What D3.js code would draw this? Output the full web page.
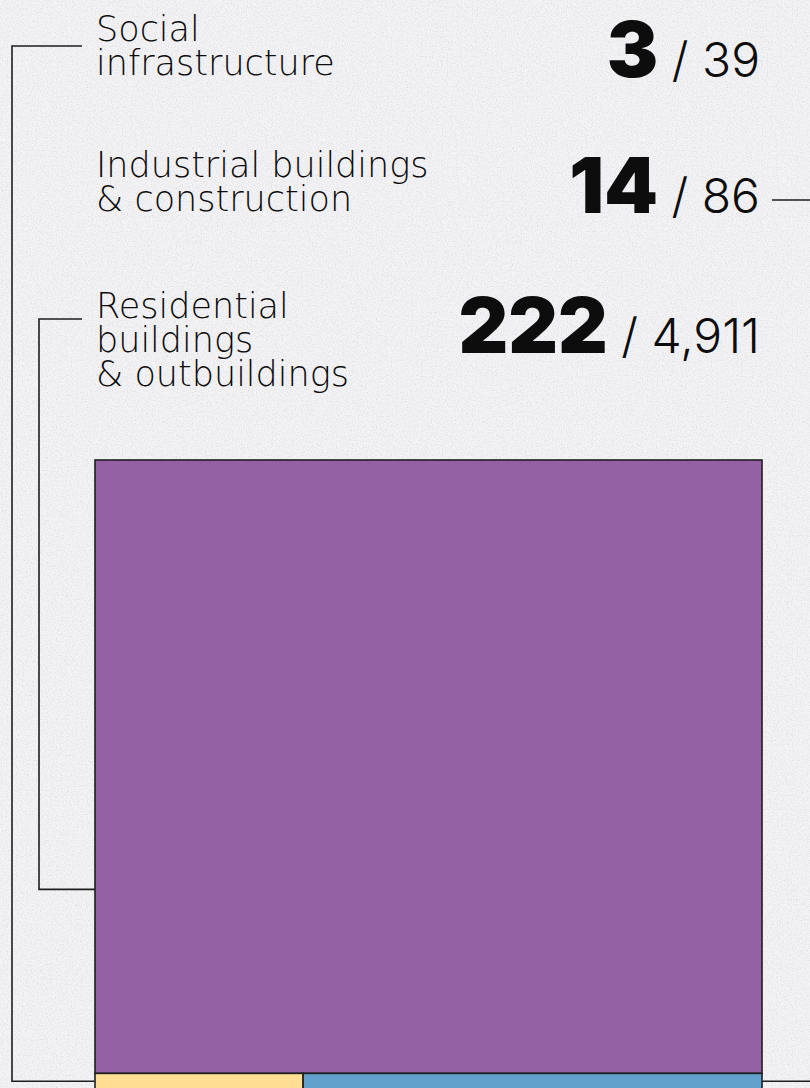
<!DOCTYPE html>
<html>
<head>
<meta charset="utf-8">
<script src="https://cdn.jsdelivr.net/npm/d3@7"></script>
<style>
  html, body { margin: 0; padding: 0; background: #f2f2f4; }
  svg { display: block; }
  .label { font-family: "DejaVu Sans", Inter, sans-serif; font-weight: 200; fill: #0c0c0c; }
  .count { font-family: Inter, "Noto Sans", sans-serif; fill: #0d0d0d; white-space: pre; }
  .leader { fill: none; stroke: #1e1e1e; stroke-width: 1.6; }
</style>
</head>
<body>
<div id="chart"></div>
<script>
// data
const categories = ["Social infrastructure", "Industrial buildings & construction", "Residential buildings & outbuildings"];
const labelLines = [["Social", "infrastructure"], ["Industrial buildings", "& construction"], ["Residential", "buildings", "& outbuildings"]];
const damaged = [3, 14, 222];
const totals = [39, 86, 4911];
const colors = ["#fede92", "#62a1cc", "#9461a4"];

const width = 810, height = 1088;
const box = { x: 95, y: 460, w: 667, h: 629 };

const svg = d3.select("#chart").append("svg")
    .attr("width", width).attr("height", height);

// paper grain
const defs = svg.append("defs");
const grain = defs.append("filter").attr("id", "grain")
    .attr("x", 0).attr("y", 0).attr("width", "100%").attr("height", "100%");
grain.append("feTurbulence").attr("type", "fractalNoise")
    .attr("baseFrequency", 0.8).attr("numOctaves", 2).attr("seed", 4).attr("stitchTiles", "stitch");
grain.append("feColorMatrix").attr("type", "matrix")
    .attr("values", "0 0 0 0 0.6  0 0 0 0 0.6  0 0 0 0 0.64  2.6 0 0 0 -1.2");

svg.append("rect").attr("width", width).attr("height", height).attr("fill", "#f3f3f5");
svg.append("rect").attr("width", width).attr("height", height)
    .attr("filter", "url(#grain)").attr("opacity", 0.5);

// treemap: residential on top, the two small groups share the strip below
const root = d3.hierarchy({ children: [{ i: 2 }, { children: [{ i: 0 }, { i: 1 }] }] })
    .sum(d => d.i != null ? totals[d.i] : 0);

d3.treemap()
    .size([box.w, box.h])
    .tile((node, x0, y0, x1, y1) => {
      if (node.depth === 0) d3.treemapSlice(node, x0, y0, x1, y1);
      else d3.treemapDice(node, x0, y0, x1, y1);
    })(root);

const leaves = root.leaves();
const cell = {};
leaves.forEach(l => cell[l.data.i] = l);

const g = svg.append("g").attr("transform", `translate(${box.x},${box.y})`);
g.selectAll("rect").data(leaves).join("rect")
    .attr("x", d => d.x0).attr("y", d => d.y0)
    .attr("width", d => d.x1 - d.x0).attr("height", d => d.y1 - d.y0)
    .attr("fill", d => colors[d.data.i])
    .attr("stroke", "#1e1e1e").attr("stroke-width", 1.6);

// labels
const labelX = 96;
const firstBaseline = [41, 177, 318];
const lineStep = 34;

labelLines.forEach((lines, k) => {
  const t = svg.append("text").attr("class", "label")
      .attr("x", labelX).attr("y", firstBaseline[k]).style("font-size", "35px");
  lines.forEach((s, j) => {
    t.append("tspan").attr("x", labelX).attr("dy", j ? lineStep : 0).text(s);
  });
});

// counts: damaged / total
const countX = 760;
const countBaseline = [77, 213, 353];
const fmt = d3.format(",");
categories.forEach((c, k) => {
  const t = svg.append("text").attr("class", "count")
      .attr("x", countX).attr("y", countBaseline[k]).attr("text-anchor", "end");
  t.append("tspan").style("font-weight", 900).style("font-size", "77px").text(damaged[k]);
  t.append("tspan").style("font-weight", 300).style("font-size", "48px").text(" / " + fmt(totals[k]));
});

// leader lines to treemap cells
const cx = d => box.x + d.x0, cy = d => box.y + (d.y0 + d.y1) / 2;
const soc = cell[0], ind = cell[1], res = cell[2];
svg.append("path").attr("class", "leader")
    .attr("d", `M82,46 H12 V${cy(soc)} H${cx(soc)}`);
svg.append("path").attr("class", "leader")
    .attr("d", `M82,319 H39 V${box.y + res.y0 + (res.y1 - res.y0) * 0.7} H${cx(res)}`);
svg.append("path").attr("class", "leader")
    .attr("d", `M772,200 H830 V${cy(ind)} H${box.x + ind.x1}`);
</script>
</body>
</html>
